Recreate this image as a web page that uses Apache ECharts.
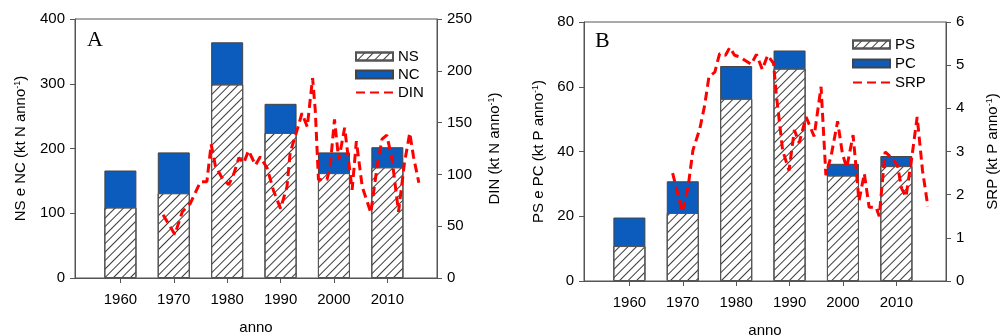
<!DOCTYPE html>
<html>
<head>
<meta charset="utf-8">
<script src="https://cdn.jsdelivr.net/npm/echarts@6/dist/echarts.min.js"></script>
<style>html,body{margin:0;padding:0;background:#fff}#c{width:1005px;height:335px}</style>
</head>
<body>
<div id="c"></div>
<script>
// ---- data ----
const decades = [1960, 1970, 1980, 1990, 2000, 2010];
const tickLabels = ['1960', '1970', '1980', '1990', '2000', '2010'];
// Panel A (kt N / anno)
const NS = [109, 131, 299, 224, 162, 171];
const NC = [57, 63, 65, 45, 32, 31];
const dinYears = [1968.0, 1970.2, 1971.6, 1973.1, 1975.0, 1976.2, 1977.0, 1977.8, 1979.0, 1980.3, 1981.2, 1982.2, 1983.1, 1984.0, 1985.3, 1986.2, 1987.5, 1988.7, 1990.0, 1991.2, 1991.8, 1993.4, 1994.0, 1995.0, 1996.0, 1996.5, 1997.1, 1998.7, 1999.3, 2000.1, 2000.9, 2002.0, 2003.1, 2003.4, 2004.2, 2005.3, 2006.9, 2008.1, 2009.0, 2009.9, 2010.9, 2011.8, 2012.1, 2013.2, 2014.2, 2014.9, 2015.9];
const dinValues = [61, 42, 64, 72, 93, 93, 129, 108, 97, 90, 100, 116, 111, 123, 109, 117, 106, 84, 67, 88, 121, 148, 159, 146, 193, 162, 95, 95, 108, 153, 114, 145, 98, 85, 132, 88, 63, 108, 134, 138, 114, 76, 64, 111, 140, 117, 92];
// Panel B (kt P / anno)
const PS = [10.8, 21.0, 56.3, 65.6, 32.6, 35.5];
const PC = [8.8, 9.8, 10.1, 5.6, 3.6, 3.1];
const srpYears = [1968.1, 1969.9, 1971.0, 1971.9, 1973.2, 1974.1, 1974.9, 1976.0, 1976.9, 1978.0, 1978.8, 1979.7, 1980.7, 1982.8, 1983.8, 1984.9, 1985.9, 1987.0, 1987.5, 1988.7, 1989.9, 1990.9, 1991.8, 1993.1, 1994.6, 1995.9, 1996.8, 1997.8, 1999.0, 1999.9, 2000.7, 2001.9, 2002.5, 2003.0, 2004.0, 2004.9, 2006.2, 2006.8, 2007.9, 2009.0, 2010.2, 2011.0, 2011.8, 2012.9, 2013.9, 2014.9, 2015.9];
const srpValues = [2.50, 1.60, 2.18, 3.03, 3.53, 4.07, 4.73, 4.84, 5.27, 5.23, 5.41, 5.23, 5.19, 5.02, 5.25, 4.90, 5.23, 5.04, 4.34, 3.03, 2.56, 3.50, 3.20, 3.80, 3.35, 4.50, 2.45, 2.91, 3.70, 2.95, 2.62, 3.38, 2.56, 1.85, 2.49, 1.71, 1.71, 1.50, 2.99, 2.87, 2.68, 2.14, 1.95, 2.87, 3.80, 2.56, 1.73];

// ---- chart ----
const FONT = '"Liberation Sans", Arial, sans-serif';
const AX = '#555';
const BLUE = '#0b5cbd';
const RED = '#ff0000';
const hatch = {
  symbol: 'rect', symbolSize: 1, color: '#3a3a3a',
  dashArrayX: [1, 0], dashArrayY: [1, 5], rotation: -Math.PI / 4
};
const pairs = (xs, ys) => xs.map((x, i) => [x, ys[i]]);
const sum = (a, b) => a.map((v, i) => v + b[i]);

function xAxis(gi) {
  return {
    type: 'value', gridIndex: gi, min: 1951.5, max: 2019.3,
    name: 'anno', nameLocation: 'middle', nameGap: 42,
    nameTextStyle: { fontFamily: FONT, fontSize: 15, color: '#000' },
    axisLine: { show: true, lineStyle: { color: AX } },
    axisTick: { show: true, length: 5, customValues: decades, lineStyle: { color: AX } },
    axisLabel: { customValues: decades, formatter: v => tickLabels[decades.indexOf(Math.round(v))] || '', fontFamily: FONT, fontSize: 15, color: '#000', margin: 14 },
    splitLine: { show: false }
  };
}
function yAxis(gi, pos, max, interval, nameStart, gap) {
  return {
    type: 'value', gridIndex: gi, position: pos, min: 0, max: max, interval: interval,
    name: '{n|' + nameStart + '}{s|-1}{n|)}',
    nameLocation: 'middle', nameRotate: 90, nameGap: gap,
    nameTextStyle: { fontFamily: FONT, fontSize: 15, color: '#000',
      rich: { n: { fontFamily: FONT, fontSize: 15, color: '#000' }, s: { fontFamily: FONT, fontSize: 9, color: '#000', verticalAlign: 'top' } } },
    axisLine: { show: true, lineStyle: { color: AX } },
    axisTick: { show: true, length: 5, inside: false, lineStyle: { color: AX } },
    axisLabel: { fontFamily: FONT, fontSize: 15, color: '#000', margin: 10 },
    splitLine: { show: false }
  };
}
function bars(name, data, xi, yi, style) {
  return {
    name: name, type: 'bar', xAxisIndex: xi, yAxisIndex: yi,
    barWidth: 32, barGap: '-100%', data: pairs(decades, data), itemStyle: style, z: 2
  };
}
function line(name, xs, ys, xi, yi) {
  return {
    name: name, type: 'line', xAxisIndex: xi, yAxisIndex: yi, data: pairs(xs, ys),
    symbol: 'none', showSymbol: false, z: 5,
    lineStyle: { color: RED, width: 3, type: [9, 5] }, itemStyle: { color: RED }
  };
}
const hatchStyle = { color: '#fff', borderColor: AX, borderWidth: 1, decal: hatch };
const blueStyle = { color: BLUE, borderColor: '#444', borderWidth: 1 };

const legendCommon = {
  orient: 'vertical', itemWidth: 37, itemHeight: 8, itemGap: 3, padding: 0,
  textStyle: { fontFamily: FONT, fontSize: 15, color: '#000' }, selectedMode: false
};
const legendData = (a, b, c) => [
  { name: a, icon: 'rect' },
  { name: b, icon: 'rect' },
  { name: c, itemStyle: { opacity: 0 } }
];

const option = {
  animation: false,
  backgroundColor: '#fff',
  grid: [
    { left: 75, top: 19, width: 362, height: 259, show: true, borderColor: AX, borderWidth: 1, containLabel: false, outerBoundsMode: 'none' },
    { left: 584, top: 22, width: 362, height: 259, show: true, borderColor: AX, borderWidth: 1, containLabel: false, outerBoundsMode: 'none' }
  ],
  xAxis: [xAxis(0), xAxis(1)],
  yAxis: [
    yAxis(0, 'left', 400, 100, 'NS e NC (kt N anno', 47),
    yAxis(0, 'right', 250, 50, 'DIN (kt N anno', 50),
    yAxis(1, 'left', 80, 20, 'PS e PC (kt P anno', 38),
    yAxis(1, 'right', 6, 1, 'SRP (kt P anno', 39)
  ],
  legend: [
    Object.assign({}, legendCommon, { left: 355, top: 49, data: legendData('NS', 'NC', 'DIN') }),
    Object.assign({}, legendCommon, { left: 852, top: 37, itemGap: 4, data: legendData('PS', 'PC', 'SRP') })
  ],
  graphic: [
    { type: 'text', left: 87, top: 29, style: { text: 'A', fontFamily: '"Liberation Serif", "Times New Roman", serif', fontSize: 22, fill: '#000' } },
    { type: 'text', left: 595, top: 30, style: { text: 'B', fontFamily: '"Liberation Serif", "Times New Roman", serif', fontSize: 22, fill: '#000' } }
  ],
  series: [
    // blue bar spans NS+NC; hatched NS drawn over its lower part
    bars('NC', sum(NS, NC), 0, 0, blueStyle),
    bars('NS', NS, 0, 0, hatchStyle),
    line('DIN', dinYears, dinValues, 0, 1),
    bars('PC', sum(PS, PC), 1, 2, blueStyle),
    bars('PS', PS, 1, 2, hatchStyle),
    line('SRP', srpYears, srpValues, 1, 3)
  ]
};
const chart = echarts.init(document.getElementById('c'), null, { renderer: 'canvas' });
chart.setOption(option);
</script>
</body>
</html>
